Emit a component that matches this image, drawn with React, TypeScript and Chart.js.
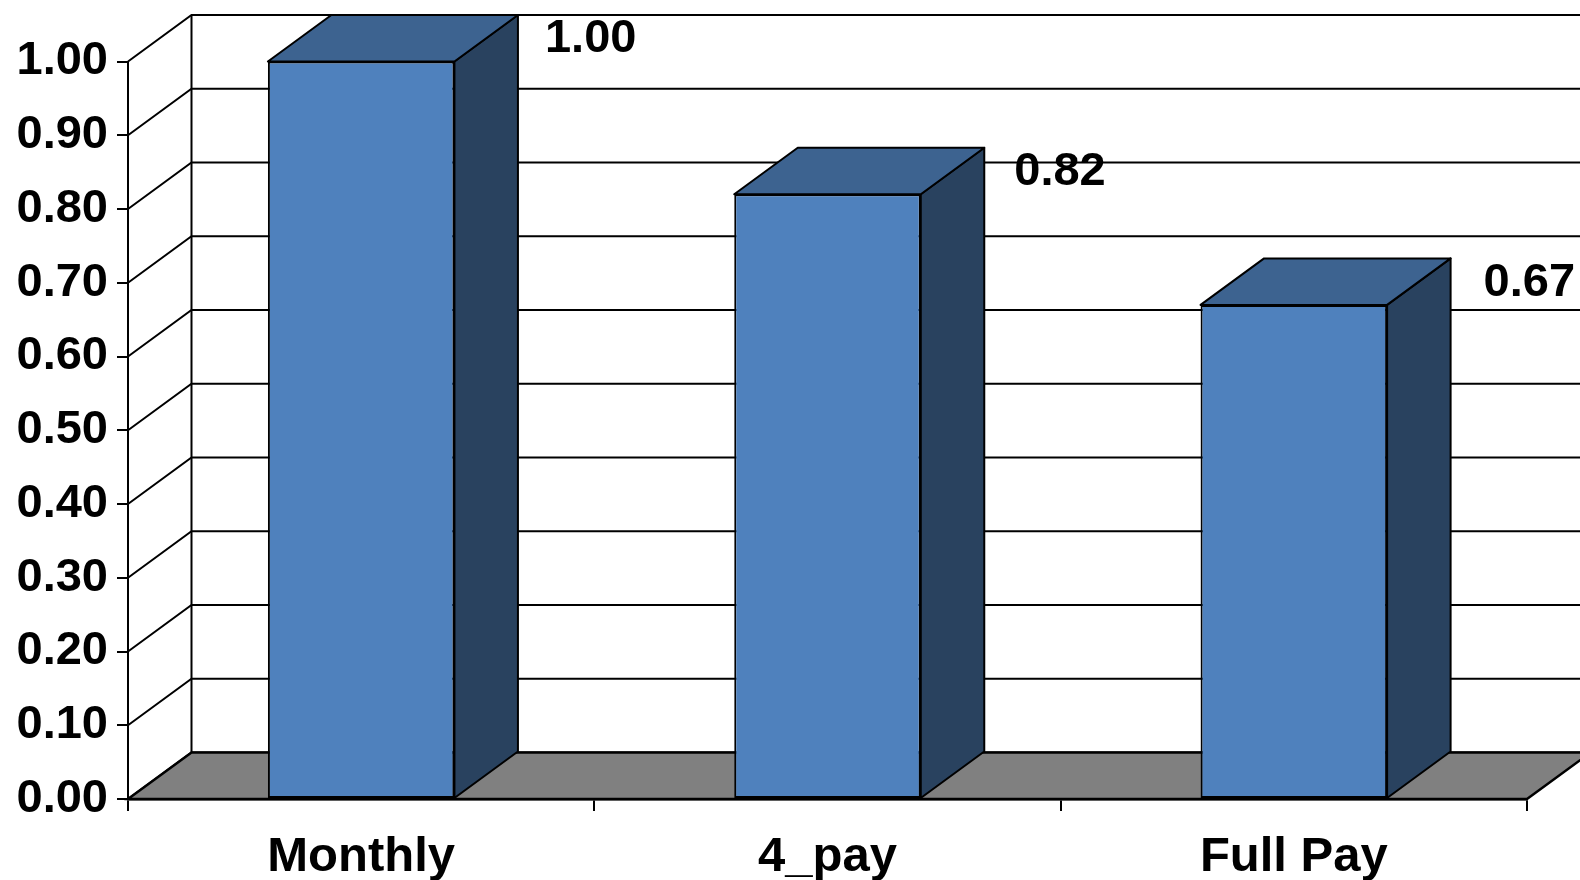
import React, { useEffect, useRef } from 'react';
import { Chart, registerables } from 'chart.js';

Chart.register(...registerables);

const categories = ['Monthly', '4_pay', 'Full Pay'];
const values = [1.0, 0.82, 0.67];
const yTickValues = [0, 0.1, 0.2, 0.3, 0.4, 0.5, 0.6, 0.7, 0.8, 0.9, 1.0];
const yTickLabels = ['0.00', '0.10', '0.20', '0.30', '0.40', '0.50', '0.60', '0.70', '0.80', '0.90', '1.00'];

const FONT = '"Liberation Sans", Arial, sans-serif';
const DX = 63.5;
const DY = 46.5;
const FRONT = '#4F81BD';
const SIDE = '#29425F';
const TOP = '#3D6390';
const FLOOR = '#808080';

const threeD = {
  id: 'threeD',
  beforeDatasetsDraw(chart: any) {
    const ctx = chart.ctx;
    const ys = chart.scales.y;
    const area = chart.chartArea;
    const left = area.left;
    const right = area.right;
    const bottom = ys.getPixelForValue(0);
    const top = ys.getPixelForValue(1);
    ctx.save();
    ctx.strokeStyle = '#000';
    ctx.lineWidth = 2;
    yTickValues.forEach((v) => {
      const py = ys.getPixelForValue(v);
      ctx.beginPath();
      ctx.moveTo(left, py);
      ctx.lineTo(left + DX, py - DY);
      ctx.lineTo(right + DX, py - DY);
      ctx.stroke();
    });
    ctx.beginPath();
    ctx.moveTo(left + DX, top - DY);
    ctx.lineTo(left + DX, bottom - DY);
    ctx.stroke();
    ctx.beginPath();
    ctx.moveTo(left, bottom);
    ctx.lineTo(right, bottom);
    ctx.lineTo(right + DX, bottom - DY);
    ctx.lineTo(left + DX, bottom - DY);
    ctx.closePath();
    ctx.fillStyle = FLOOR;
    ctx.fill();
    ctx.lineWidth = 2.5;
    ctx.stroke();
    const meta = chart.getDatasetMeta(0);
    ctx.lineWidth = 2;
    ctx.lineJoin = 'round';
    meta.data.forEach((bar: any) => {
      const p = bar.getProps(['x', 'y', 'base', 'width'], true);
      const L = p.x - p.width / 2;
      const R = p.x + p.width / 2;
      const T = p.y;
      const B = p.base;
      ctx.beginPath();
      ctx.moveTo(R, T);
      ctx.lineTo(R + DX, T - DY);
      ctx.lineTo(R + DX, B - DY);
      ctx.lineTo(R, B);
      ctx.closePath();
      ctx.fillStyle = SIDE;
      ctx.fill();
      ctx.stroke();
      ctx.beginPath();
      ctx.moveTo(L, T);
      ctx.lineTo(L + DX, T - DY);
      ctx.lineTo(R + DX, T - DY);
      ctx.lineTo(R, T);
      ctx.closePath();
      ctx.fillStyle = TOP;
      ctx.fill();
      ctx.stroke();
    });
    ctx.restore();
  },
  afterDatasetsDraw(chart: any) {
    const ctx = chart.ctx;
    const meta = chart.getDatasetMeta(0);
    ctx.save();
    ctx.fillStyle = '#000';
    ctx.font = `bold 47px ${FONT}`;
    ctx.textAlign = 'left';
    ctx.textBaseline = 'middle';
    meta.data.forEach((bar: any, i: number) => {
      const p = bar.getProps(['x', 'y', 'width'], true);
      const tx = p.x + p.width / 2 + DX + 27 + i * 3;
      const ty = Math.max(p.y - 22, 33);
      ctx.fillText(values[i].toFixed(2), tx, ty);
    });
    ctx.restore();
  },
};

export default function App() {
  const ref = useRef<HTMLCanvasElement | null>(null);
  useEffect(() => {
    if (!ref.current) return;
    const chart = new Chart(ref.current, {
      type: 'bar',
      data: {
        labels: categories,
        datasets: [
          {
            data: values,
            backgroundColor: FRONT,
            borderColor: '#000',
            borderWidth: 2,
            borderSkipped: false,
            barPercentage: 0.4,
            categoryPercentage: 1,
          },
        ],
      },
      options: {
        responsive: false,
        animation: false,
        layout: { padding: { top: 61.5, right: 53, left: 0, bottom: 0 } },
        plugins: { legend: { display: false }, tooltip: { enabled: false } },
        scales: {
          x: {
            grid: {
              display: true,
              drawOnChartArea: false,
              drawTicks: true,
              tickLength: 12,
              color: '#000',
              lineWidth: 2,
              offset: true,
            },
            border: { display: true, color: '#000', width: 2.5 },
            ticks: {
              font: { family: FONT, size: 49, weight: 'bold' },
              color: '#000',
              padding: 17,
              maxRotation: 0,
              autoSkip: false,
            },
            afterFit: (s: any) => {
              s.height = 81;
            },
          },
          y: {
            min: 0,
            max: 1,
            afterBuildTicks: (s: any) => {
              s.ticks = yTickValues.map((v) => ({ value: v }));
            },
            ticks: {
              callback: (_v: any, i: number) => yTickLabels[i],
              font: { family: FONT, size: 47, weight: 'bold' },
              color: '#000',
              padding: 9,
            },
            grid: {
              drawOnChartArea: false,
              tickLength: 11,
              color: '#000',
              lineWidth: 2,
            },
            border: { display: true, color: '#000', width: 2 },
            afterFit: (s: any) => {
              s.width = 128;
            },
          },
        },
      },
      plugins: [threeD],
    });
    return () => chart.destroy();
  }, []);
  return (
    <div style={{ position: 'absolute', left: 0, top: 0, width: 1580, height: 880, background: '#fff' }}>
      <canvas ref={ref} width={1580} height={880} style={{ display: 'block' }} />
    </div>
  );
}
